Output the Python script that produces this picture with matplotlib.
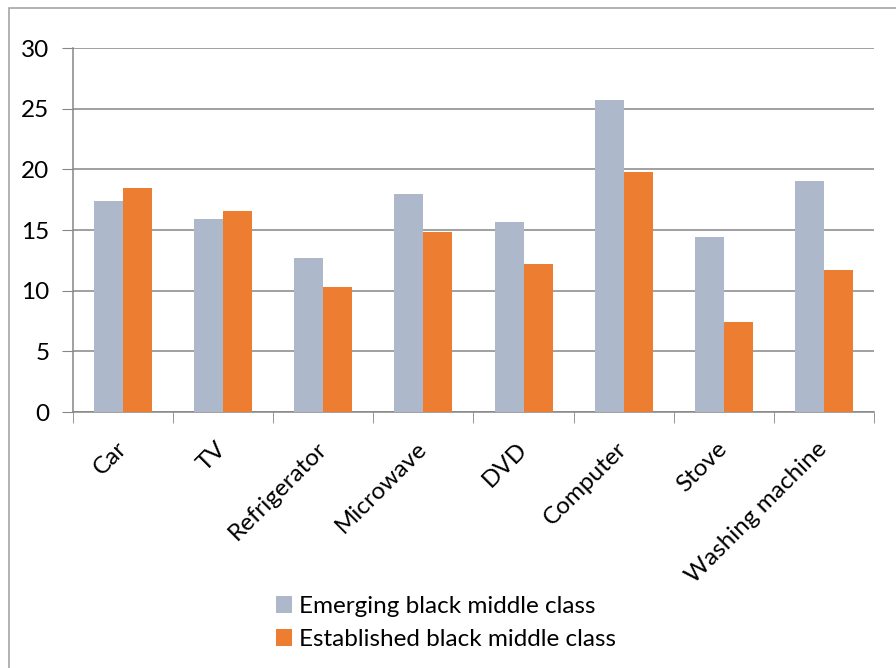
import numpy as np
import matplotlib.pyplot as plt
from matplotlib.patches import Rectangle

# data
categories = ['Car', 'TV', 'Refrigerator', 'Microwave', 'DVD', 'Computer', 'Stove', 'Washing machine']
emerging = [17.4, 15.9, 12.7, 18.0, 15.7, 25.7, 14.4, 19.0]
established = [18.5, 16.6, 10.3, 14.8, 12.2, 19.8, 7.45, 11.7]
series_names = ['Emerging black middle class', 'Established black middle class']
y_ticks = [0, 5, 10, 15, 20, 25, 30]

plt.rcParams['font.family'] = ['Lato', 'DejaVu Sans']
fs = 17.5

fig = plt.figure(figsize=(8.96, 6.68), dpi=100)
ax = fig.add_axes([0.0815, 0.3832, 0.8939, 0.5449])

x = np.arange(len(categories))
w = 0.29
ax.bar(x - w / 2, emerging, w, color='#ADB9CA', label=series_names[0], zorder=3)
ax.bar(x + w / 2, established, w, color='#ED7D31', label=series_names[1], zorder=3)

ax.set_xlim(-0.5, len(categories) - 0.5)
ax.set_ylim(0, 30)
ax.set_yticks(y_ticks)
ax.tick_params(axis='y', length=8, color='#868686', labelsize=fs, pad=9)
ax.yaxis.grid(True, color='#868686', linewidth=1.1, zorder=0)

ax.set_xticks(x)
ax.set_xticklabels(categories, rotation=45, ha='right', va='center',
                   rotation_mode='anchor', fontsize=fs)
ax.set_xticks(np.arange(len(categories) + 1) - 0.5, minor=True)
ax.tick_params(axis='x', which='major', length=0, pad=24)
ax.tick_params(axis='x', which='minor', length=8, color='#868686')

for s in ['top', 'right']:
    ax.spines[s].set_visible(False)
for s in ['left', 'bottom']:
    ax.spines[s].set_color('#868686')
    ax.spines[s].set_linewidth(1.1)

fig.legend(loc='center', bbox_to_anchor=(0.498, 0.0674), frameon=False, fontsize=fs,
           handlelength=0.66, handleheight=0.66, handletextpad=0.3, labelspacing=0.5)

# outer chart border
fig.patches.append(Rectangle((9 / 896, -0.1), 1.2, 1 - 8 / 668 + 0.1, transform=fig.transFigure,
                             fill=False, edgecolor='#A6A6A6', linewidth=1.2))

fig.savefig('out.png', dpi=100)
